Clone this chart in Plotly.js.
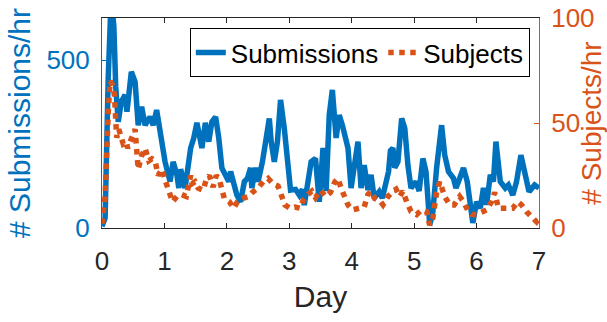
<!DOCTYPE html>
<html>
<head>
<meta charset="utf-8">
<script src="https://cdn.plot.ly/plotly-3.0.1.min.js"></script>
<style>html,body{margin:0;padding:0;background:#fff;}#chart{width:607px;height:322px;}</style>
</head>
<body>
<div id="chart"></div>
<script>
// Submissions per hour (left axis)
const subDays = [0.00,0.05,0.10,0.14,0.17,0.19,0.22,0.26,0.31,0.37,0.40,0.47,0.53,0.58,0.635,0.69,0.77,0.82,0.875,0.93,
  1.01,1.09,1.14,1.20,1.23,1.26,1.33,1.42,1.47,1.52,1.60,1.655,1.71,1.76,1.82,1.87,1.92,
  2.03,2.06,2.16,2.22,2.28,2.33,2.38,2.40,2.46,2.50,2.57,2.62,2.68,2.71,2.76,2.81,2.86,2.92,2.97,
  3.02,3.10,3.16,3.21,3.24,3.28,3.35,3.42,3.48,3.54,3.59,3.64,3.69,3.75,3.80,3.85,3.94,3.99,
  4.04,4.10,4.15,4.20,4.26,4.31,4.36,4.44,4.49,4.59,4.62,4.66,4.69,4.74,4.80,4.85,4.90,4.95,
  5.03,5.08,5.14,5.19,5.25,5.30,5.36,5.44,5.49,5.55,5.63,5.67,5.73,5.79,5.85,5.90,5.94,
  6.00,6.06,6.11,6.16,6.22,6.27,6.31,6.38,6.46,6.51,6.58,6.64,6.71,6.79,6.84,6.93,7.00];
const submissions = [5,30,450,650,640,600,420,316,376,396,346,465,435,306,361,306,331,306,351,287,
  197,138,197,158,119,175,119,238,268,313,238,313,257,316,331,268,179,
  138,168,98,78,138,148,179,119,179,138,197,257,326,257,197,257,381,297,187,
  113,115,98,115,68,115,197,207,78,238,110,336,411,268,336,306,238,119,
  197,257,119,187,113,158,89,108,89,168,230,238,179,197,326,297,187,119,
  138,110,207,168,9,48,179,306,217,168,148,119,148,179,138,59,15,
  78,59,119,69,158,138,257,138,119,128,98,138,217,138,108,128,119];

// Subjects per hour (right axis)
const subjDays = [0.00,0.05,0.10,0.13,0.17,0.20,0.235,0.27,0.34,0.39,0.41,0.45,0.53,0.58,0.63,0.69,0.75,0.80,0.85,0.90,0.96,
  1.02,1.08,1.13,1.20,1.27,1.35,1.42,1.44,1.49,1.54,1.62,1.67,1.72,1.78,1.83,1.88,1.96,
  2.04,2.11,2.17,2.24,2.35,2.41,2.50,2.58,2.66,2.74,2.82,2.87,2.93,
  3.01,3.09,3.17,3.22,3.30,3.36,3.42,3.50,3.58,3.66,3.73,3.78,3.83,3.89,3.94,
  4.01,4.10,4.20,4.26,4.31,4.37,4.45,4.50,4.58,4.66,4.71,4.77,4.82,4.88,4.95,
  5.04,5.12,5.20,5.25,5.30,5.36,5.41,5.49,5.57,5.64,5.73,5.79,5.87,5.93,
  6.00,6.08,6.16,6.24,6.29,6.35,6.43,6.51,6.58,6.66,6.72,6.80,6.88,6.96,7.00];
const subjects = [2,15,55,70,68,63,43,47,40,41,38,41,47,28,34,38,32,33,32,25,28,
  22,16.5,12.5,15,16,15,25,21,22,19,18,23,25,19.5,25,23,14,
  12.5,9.4,12.5,14,15,17,19,22,23.6,21,20,15,11,
  9.4,10,9.4,13,16,17.5,14.5,18,15,17,22,23.6,19,15,11,
  8.6,9.4,10,16,17.5,14,13,11,15,17.5,18.5,15,17.5,12.5,7.8,
  6.4,8.6,7.8,1.4,4.8,17,22,15,11,11,15,12.5,7.8,6.4,
  6.4,7.8,8.6,12.5,17,9.4,9.4,10,9.4,12.5,11,7.8,5.6,3,4.8];

const xTicks = [0,1,2,3,4,5,6,7];
const leftTicks = [0,500];
const rightTicks = [0,50,100];

const BLUE = '#0072BD', ORANGE = '#D95319', DARK = '#262626';
const FONT = 'Liberation Sans, Arial, Helvetica, sans-serif';

const traces = [
  {x: subDays, y: submissions, type: 'scatter', mode: 'lines', name: 'Submissions',
   line: {color: BLUE, width: 5.5}, yaxis: 'y'},
  {x: subjDays, y: subjects, type: 'scatter', mode: 'lines', name: 'Subjects',
   line: {color: ORANGE, width: 5.5, dash: 'dot'}, yaxis: 'y2'}
];

const layout = {
  width: 607, height: 322,
  margin: {l: 102, r: 68, t: 18, b: 94},
  paper_bgcolor: '#fff', plot_bgcolor: '#fff',
  font: {family: FONT, color: DARK},
  showlegend: true,
  legend: {x: 0.979, y: 0.952, xanchor: 'right', yanchor: 'top', orientation: 'h',
    bgcolor: '#fff', bordercolor: '#000', borderwidth: 1,
    font: {size: 26, color: '#000', family: FONT}, traceorder: 'normal'},
  xaxis: {range: [0, 7], tickvals: xTicks, ticks: 'inside', ticklen: 5, tickcolor: DARK,
    showline: true, linecolor: DARK, linewidth: 1, mirror: 'ticks', showgrid: false, zeroline: false,
    tickfont: {size: 26, color: DARK}, automargin: false, ticklabelstandoff: 10,
    title: {text: 'Day', font: {size: 30, color: DARK}, standoff: 10}},
  yaxis: {range: [0, 625], tickvals: leftTicks, ticks: 'inside', ticklen: 5, tickcolor: BLUE,
    showline: true, linecolor: BLUE, linewidth: 1, showgrid: false, zeroline: false,
    tickfont: {size: 26, color: BLUE}, automargin: false, ticklabelstandoff: 6,
    title: {text: '# Submissions/hr', font: {size: 30, color: BLUE}, standoff: 6}},
  yaxis2: {range: [0, 100], tickvals: rightTicks, ticks: 'inside', ticklen: 5, tickcolor: ORANGE,
    overlaying: 'y', side: 'right', showline: true, linecolor: ORANGE, linewidth: 1,
    showgrid: false, zeroline: false, tickfont: {size: 26, color: ORANGE}, automargin: false,
    ticklabelstandoff: 6,
    title: {text: '# Subjects/hr', font: {size: 28, color: ORANGE}, standoff: 4}}
};

Plotly.newPlot('chart', traces, layout, {staticPlot: true, displayModeBar: false});
</script>
</body>
</html>
